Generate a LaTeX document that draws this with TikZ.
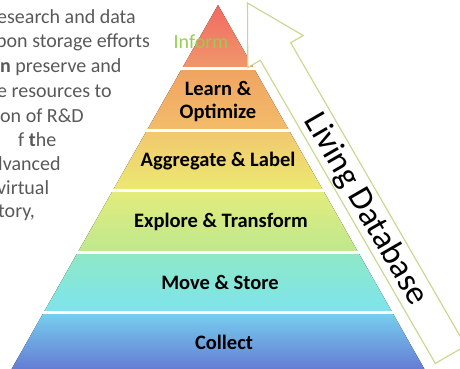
\documentclass[tikz,border=0pt]{standalone}
\usepackage{fontspec}
\setmainfont{Carlito}
\usetikzlibrary{calc}

% colours of the pyramid, top to bottom
\definecolor{pA}{HTML}{F26A62}
\definecolor{pB}{HTML}{F0966A}
\definecolor{pC}{HTML}{F0A462}
\definecolor{pD}{HTML}{F2BC6A}
\definecolor{pE}{HTML}{F2C86E}
\definecolor{pF}{HTML}{ECE872}
\definecolor{pG}{HTML}{E2EC7C}
\definecolor{pH}{HTML}{BFE88E}
\definecolor{pI}{HTML}{8EE8C6}
\definecolor{pJ}{HTML}{7EE4EC}
\definecolor{pK}{HTML}{76CDEE}
\definecolor{pL}{HTML}{6478D2}
\definecolor{arrowline}{HTML}{C4D98C}
\definecolor{informgreen}{HTML}{98CC50}
\definecolor{bodygray}{HTML}{595959}

% one vertical shading for the whole pyramid (path box = 25bp..75bp)
\pgfdeclareverticalshading{pyramidshade}{100bp}{%
  color(0bp)=(pL); color(25bp)=(pL);
  color(32.90bp)=(pK); color(33.45bp)=(pJ);
  color(41.08bp)=(pI); color(41.49bp)=(pH);
  color(49.52bp)=(pG); color(50.07bp)=(pF);
  color(57.70bp)=(pE); color(58.11bp)=(pD);
  color(66.14bp)=(pC); color(66.69bp)=(pB);
  color(75bp)=(pA); color(100bp)=(pA)}

\tikzset{
  layerlabel/.style={font=\fontsize{20.5}{23}\selectfont\bfseries, text=black,
    align=center, inner sep=0pt},
  bodyline/.style={font=\fontsize{20}{24}\selectfont, text=bodygray,
    anchor=west, inner sep=0pt},
  gap/.style={fill=white},
  bigarrow/.style={fill=white, draw=arrowline, line width=1.1pt, line join=miter},
}

\begin{document}
\begin{tikzpicture}[x=1pt, y=-1pt]
\useasboundingbox (0,0) rectangle (460,368);

% pyramid body
\fill[shading=pyramidshade] (218,5) -- (9.9,372) -- (426.1,372) -- cycle;

% white bands between the layers
\foreach \ya/\yb in {66.5/69.5, 129.3/132.3, 188.5/191.5, 251/254, 310.5/313.5}
  \fill[gap] (0,\ya) rectangle (460,\yb);

% layer labels
\node[font=\fontsize{20}{24}\selectfont, text=informgreen, inner sep=0pt] (inform) at (201,42) {Inform};
\node[layerlabel] (learn) at (218,101.5) {Learn \&\\Optimize};
\node[layerlabel] (aggregate) at (218,161) {Aggregate \& Label};
\node[layerlabel] (explore) at (221,222) {Explore \& Transform};
\node[layerlabel] (move) at (220,282) {Move \& Store};
\node[layerlabel] (collect) at (224,342) {Collect};

% body text running off the left edge
\node[bodyline] (t1) at (-3,17) {esearch and data};
\node[bodyline] (t2) at (-4,42) {pon storage efforts};
\node[bodyline] (t3) at (0,67) {\textbf{n} preserve and};
\node[bodyline] (t4) at (-3,91) {e resources to};
\node[bodyline] (t5) at (0,116) {on of R\&D};
\node[bodyline] (t6) at (18,140) {f \textbf{t}he};
\node[bodyline] (t7) at (-2,164) {lvanced};
\node[bodyline] (t8) at (-3,188) {virtual};
\node[bodyline] (t9) at (-2,213) {tory,};

% "Living Database" arrow along the right side of the pyramid
\draw[bigarrow] (247.5,3) -- (303.2,35.5) -- (290.7,42.75) -- (465.7,345.85)
  -- (435.3,363.4) -- (260.3,60.25) -- (247.8,67.5) -- cycle;
\node[font=\fontsize{34}{40}\selectfont, rotate=-60, inner sep=0pt] (living) at (365.5,209.6) {Living Database};
\end{tikzpicture}
\end{document}
